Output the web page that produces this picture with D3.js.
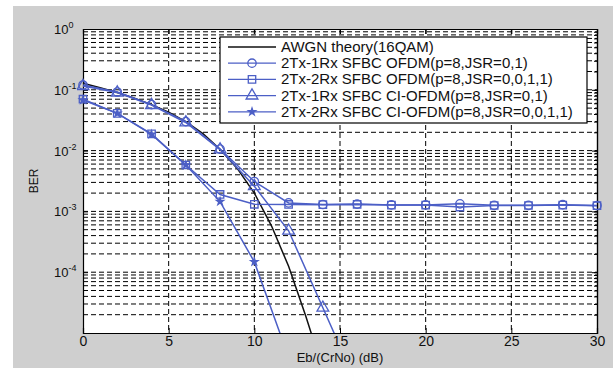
<!DOCTYPE html>
<html>
<head>
<meta charset="utf-8">
<script src="https://cdn.jsdelivr.net/npm/d3@7"></script>
<style>
  body { margin: 0; background: #fff; }
  svg { display: block; font-family: "Liberation Sans", Arial, sans-serif; }
  .grid line { stroke: #000; stroke-dasharray: 5,3; stroke-width: 1; }
</style>
</head>
<body>
<div id="chart"></div>
<script>
// BER values
const awgnX = [0, 1, 2, 3, 4, 5, 6, 7, 8, 9, 10, 11, 12, 13, 14];
const awgnY = [0.128, 0.108, 0.090, 0.073, 0.057, 0.043, 0.030, 0.019, 0.0105, 0.0051, 0.0020, 0.00058, 0.000125, 0.000019, 0.0000025];

const snrX = [0, 2, 4, 6, 8, 10, 12, 14, 16, 18, 20, 22, 24, 26, 28, 30];
const ofdm1Rx = [0.12, 0.092, 0.057, 0.030, 0.0106, 0.0031, 0.00138, 0.0013, 0.00132, 0.00128, 0.00128, 0.00133, 0.00126, 0.00126, 0.00129, 0.00125];
const ofdm2Rx = [0.070, 0.041, 0.0188, 0.0058, 0.0019, 0.00131, 0.0013, 0.00129, 0.0013, 0.00127, 0.00127, 0.00118, 0.00125, 0.00125, 0.00127, 0.00124];

const ciX = [0, 2, 4, 6, 8, 10, 12, 14, 16];
const ci1Rx = [0.115, 0.090, 0.056, 0.029, 0.0104, 0.0026, 0.00048, 0.000026, 0.0000014];
const ci2RxX = [0, 2, 4, 6, 8, 10, 12];
const ci2Rx = [0.068, 0.041, 0.0185, 0.0058, 0.00145, 0.000148, 0.000004];

const legendLabels = [
  "AWGN theory(16QAM)",
  "2Tx-1Rx SFBC OFDM(p=8,JSR=0,1)",
  "2Tx-2Rx SFBC OFDM(p=8,JSR=0,0,1,1)",
  "2Tx-1Rx SFBC CI-OFDM(p=8,JSR=0,1)",
  "2Tx-2Rx SFBC CI-OFDM(p=8,JSR=0,0,1,1)"
];
const xTicks = [0, 5, 10, 15, 20, 25, 30];
const yDecades = [0, -1, -2, -3, -4];

const W = 613, H = 368;
const margin = {top: 29, right: 16, bottom: 35, left: 83};
const blue = "#4c5fc6";

const svg = d3.select('#chart').append('svg')
  .attr('width', W)
  .attr('height', H);

svg.append('rect')
  .attr('x', 13).attr('y', 6)
  .attr('width', W - 13).attr('height', H - 6)
  .attr('fill', '#cfcfcf');

const x = d3.scaleLinear().domain([0, 30]).range([margin.left, W - margin.right]);
const y = d3.scaleLog().domain([1e-5, 1]).range([H - margin.bottom, margin.top]);

svg.append('rect')
  .attr('x', x(0)).attr('y', y(1))
  .attr('width', x(30) - x(0)).attr('height', y(1e-5) - y(1))
  .attr('fill', '#fff');

// all y gridlines (major + minor)
const yGridVals = [];
for (let e = -5; e < 0; e++) {
  for (let m = 1; m < 10; m++) yGridVals.push(m * Math.pow(10, e));
}
const grid = svg.append('g').attr('class', 'grid');
grid.selectAll('.hy')
  .data(yGridVals.filter(v => v > 1e-5))
  .enter().append('line')
  .attr('x1', x(0)).attr('x2', x(30))
  .attr('y1', d => y(d)).attr('y2', d => y(d));
grid.selectAll('.vx')
  .data(xTicks.slice(1, -1))
  .enter().append('line')
  .attr('x1', d => x(d)).attr('x2', d => x(d))
  .attr('y1', y(1)).attr('y2', y(1e-5));

// axes with inward ticks
svg.append('g')
  .attr('transform', 'translate(0,' + y(1e-5) + ')')
  .call(d3.axisBottom(x).tickValues(xTicks).tickSize(-5).tickPadding(3))
  .call(g => g.selectAll('text').attr('font-size', 14).attr('fill', '#111'));
svg.append('g')
  .attr('transform', 'translate(0,' + y(1) + ')')
  .call(d3.axisTop(x).tickValues(xTicks).tickSize(-5).tickFormat(''));
svg.append('g')
  .attr('transform', 'translate(' + x(0) + ',0)')
  .call(d3.axisLeft(y).tickValues(yDecades.map(e => Math.pow(10, e))).tickSize(-5).tickFormat(''));
svg.append('g')
  .attr('transform', 'translate(' + x(30) + ',0)')
  .call(d3.axisRight(y).tickValues(yDecades.map(e => Math.pow(10, e))).tickSize(-5).tickFormat(''));
svg.append('g')
  .attr('transform', 'translate(' + x(30) + ',0)')
  .call(d3.axisRight(y).tickValues(yGridVals.filter(v => v > 1e-5)).tickSize(-3).tickFormat(''));
svg.selectAll('.domain').attr('stroke', '#000').attr('stroke-width', 1.2);

// decade labels
const yl = svg.append('g').attr('font-size', 13).attr('fill', '#111');
yDecades.forEach(e => {
  const t = yl.append('text')
    .attr('x', 54)
    .attr('y', y(Math.pow(10, e)) + 5);
  t.append('tspan').text('10');
  t.append('tspan').attr('dy', -6).attr('font-size', 9).text(e);
});

svg.append('text')
  .attr('transform', 'translate(38,' + ((y(1) + y(1e-5)) / 2) + ') rotate(-90)')
  .attr('text-anchor', 'middle')
  .attr('font-size', 12)
  .attr('fill', '#111')
  .text('BER');
svg.append('text')
  .attr('x', (x(0) + x(30)) / 2)
  .attr('y', 362)
  .attr('text-anchor', 'middle')
  .attr('font-size', 13)
  .attr('fill', '#111')
  .text('Eb/(CrNo) (dB)');

// curves
svg.append('clipPath').attr('id', 'clip')
  .append('rect')
  .attr('x', x(0) - 6).attr('y', y(1))
  .attr('width', x(30) - x(0) + 12).attr('height', y(1e-5) - y(1));
const plot = svg.append('g').attr('clip-path', 'url(#clip)');
const line = d3.line().x(d => x(d[0])).y(d => y(d[1]));

const series = [
  {xs: awgnX, ys: awgnY, color: '#111', marker: null},
  {xs: snrX, ys: ofdm1Rx, color: blue, marker: 'circle'},
  {xs: snrX, ys: ofdm2Rx, color: blue, marker: 'square'},
  {xs: ciX, ys: ci1Rx, color: blue, marker: 'triangle'},
  {xs: ci2RxX, ys: ci2Rx, color: blue, marker: 'star'}
];

const symbols = {circle: d3.symbolCircle, square: d3.symbolSquare, triangle: d3.symbolTriangle, star: d3.symbolStar};
const sizes = {circle: 55, square: 55, triangle: 60, star: 16};

function drawMarker(g, type, cx, cy, color) {
  g.append('path')
    .attr('d', d3.symbol().type(symbols[type]).size(sizes[type])())
    .attr('transform', 'translate(' + cx + ',' + cy + ')')
    .attr('fill', type === 'star' ? color : 'none')
    .attr('stroke', color)
    .attr('stroke-width', 1.3);
}

series.forEach(s => {
  const pts = s.xs.map((v, i) => [v, s.ys[i]]);
  plot.append('path')
    .datum(pts)
    .attr('fill', 'none')
    .attr('stroke', s.color)
    .attr('stroke-width', 1.5)
    .attr('d', line);
  if (s.marker) {
    pts.filter(p => p[1] >= 1e-5).forEach(p => drawMarker(plot, s.marker, x(p[0]), y(p[1]), s.color));
  }
});

// legend
const lg = svg.append('g');
lg.append('rect')
  .attr('x', 220).attr('y', 37)
  .attr('width', 367).attr('height', 86)
  .attr('fill', '#fff').attr('stroke', '#000').attr('stroke-width', 1.2);
series.forEach((s, i) => {
  const ly = 47 + i * 16.2;
  lg.append('line')
    .attr('x1', 228).attr('x2', 276)
    .attr('y1', ly).attr('y2', ly)
    .attr('stroke', s.color).attr('stroke-width', 1.3);
  if (s.marker) drawMarker(lg, s.marker, 252, ly, s.color);
  lg.append('text')
    .attr('x', 281).attr('y', ly + 5)
    .attr('font-size', 15)
    .attr('fill', '#111')
    .text(legendLabels[i]);
});
</script>
</body>
</html>
